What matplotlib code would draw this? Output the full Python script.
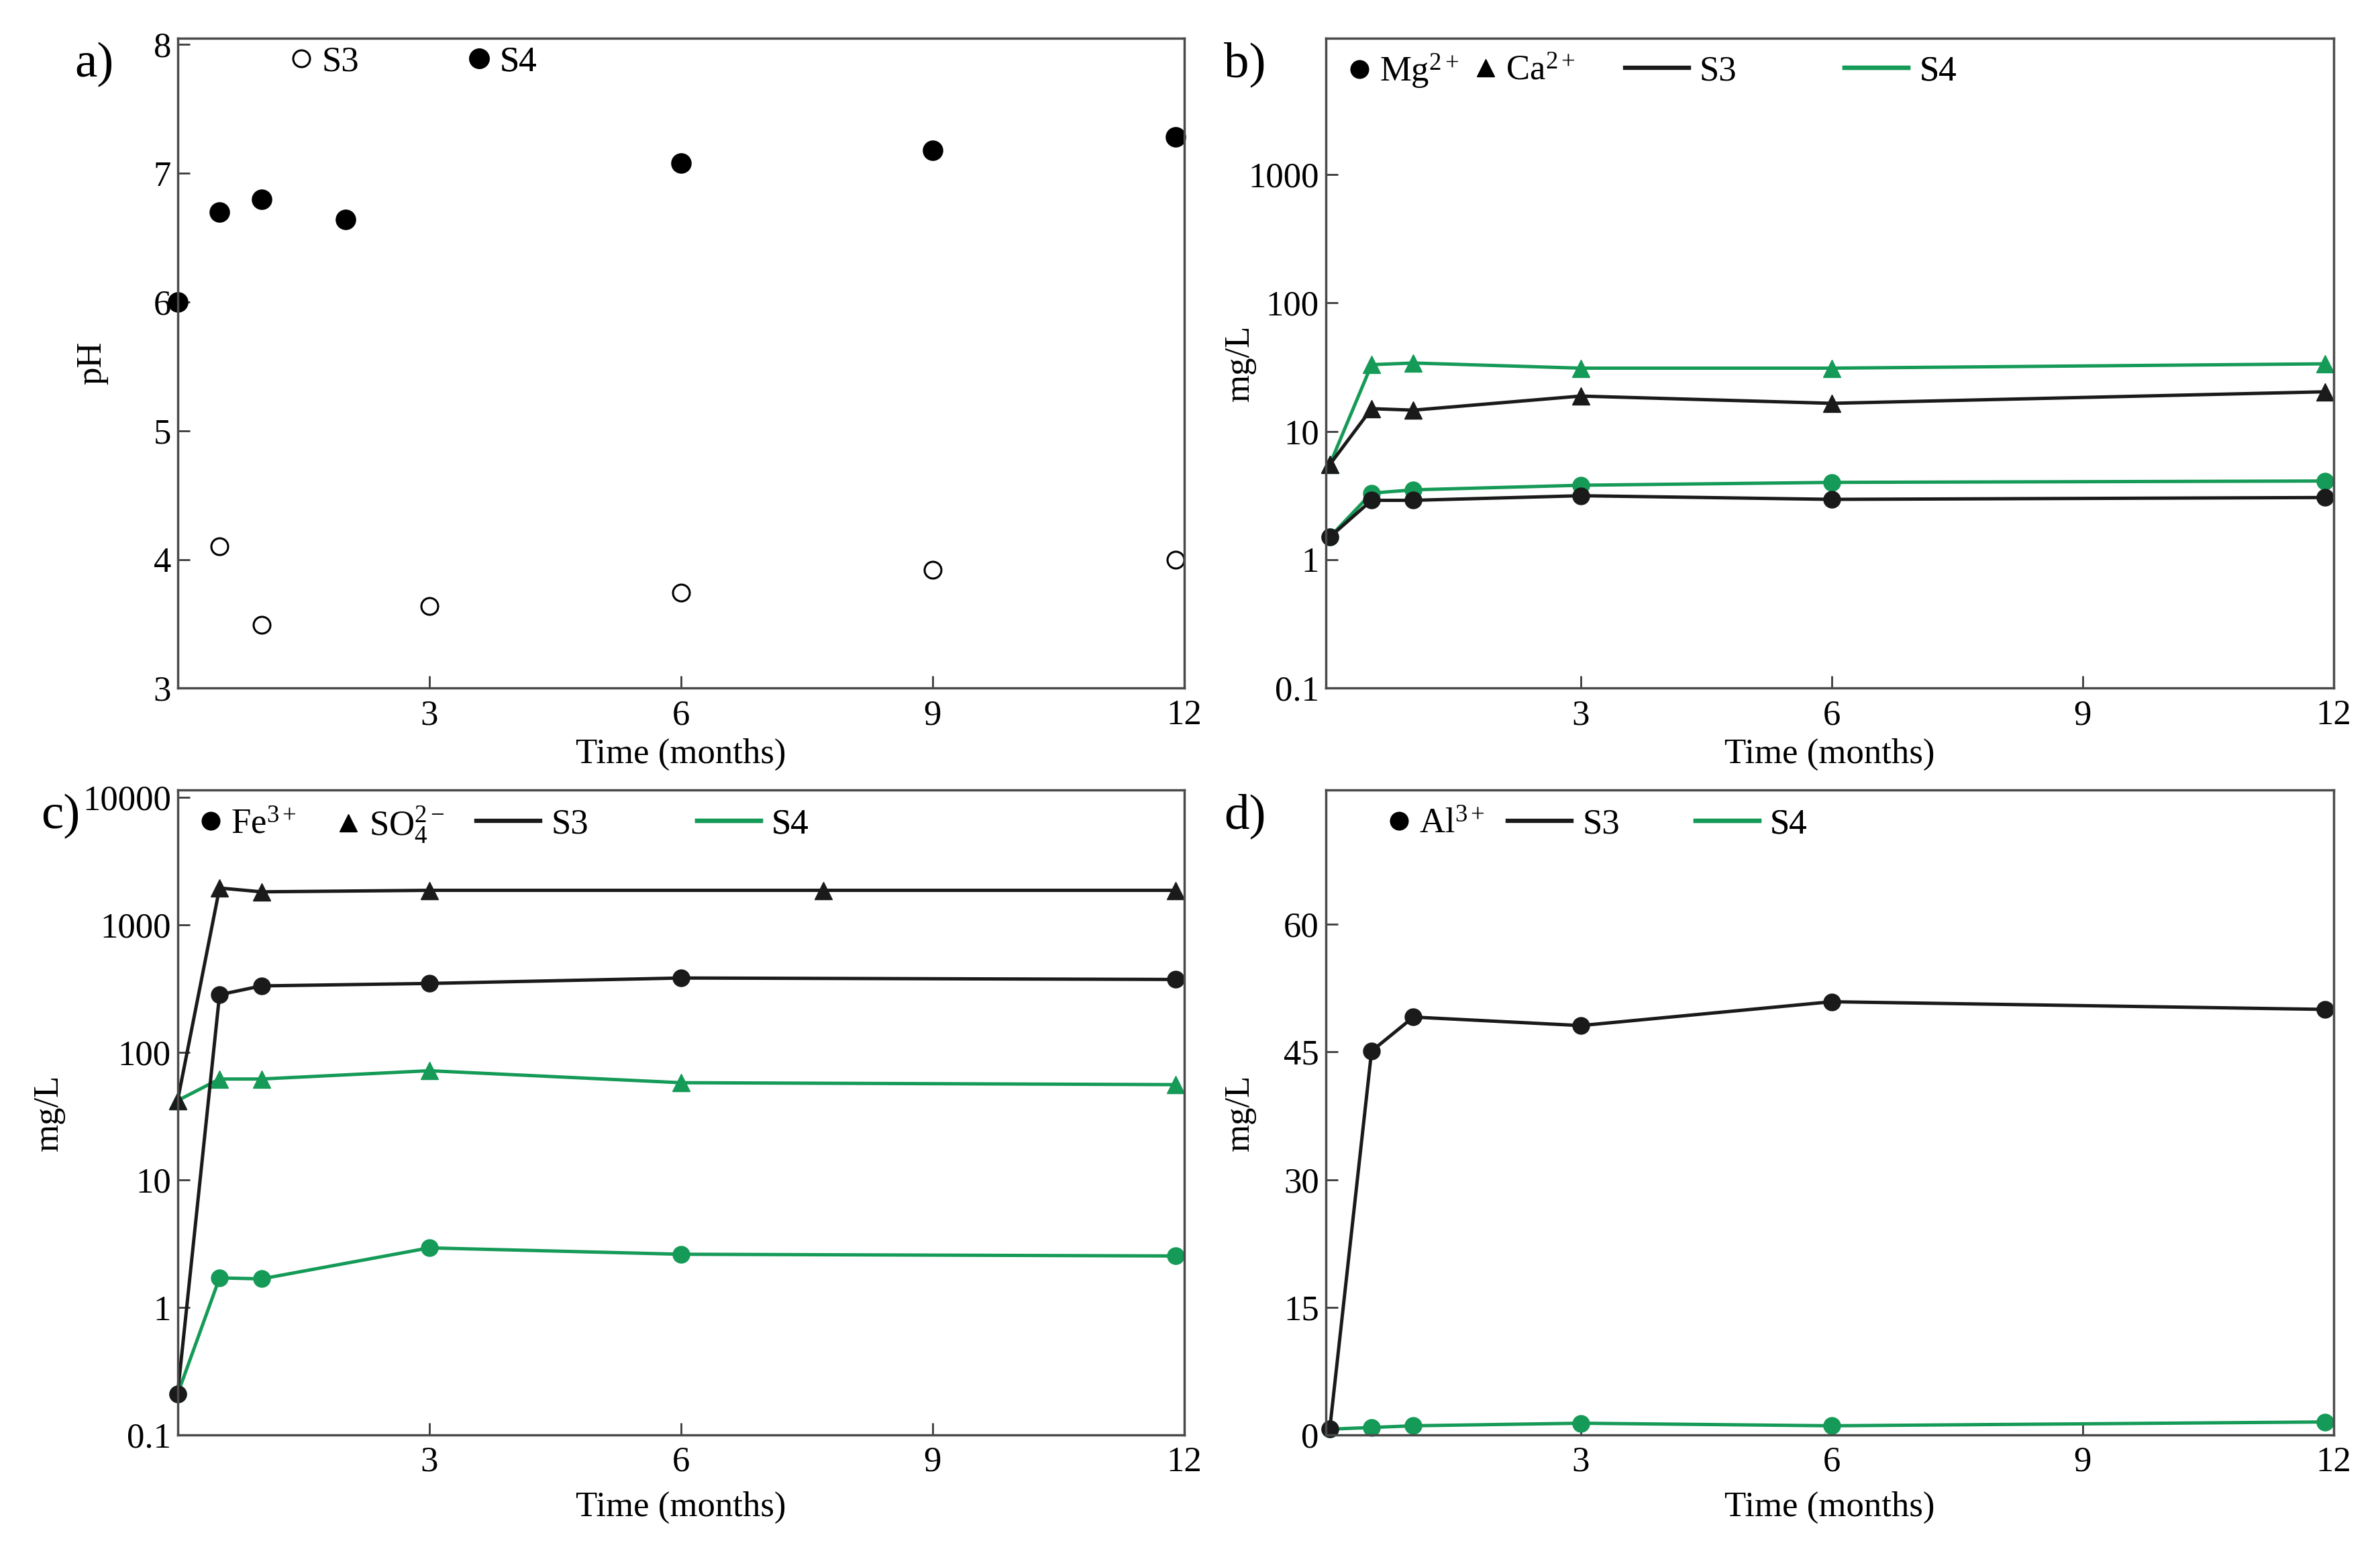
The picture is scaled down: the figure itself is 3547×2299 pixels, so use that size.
import matplotlib
matplotlib.use("Agg")
import matplotlib.pyplot as plt
from matplotlib.lines import Line2D

plt.rcParams['font.family'] = ['Liberation Serif', 'DejaVu Serif']
plt.rcParams['mathtext.fontset'] = 'custom'
plt.rcParams['mathtext.rm'] = 'Liberation Serif'
plt.rcParams['mathtext.it'] = 'Liberation Serif:italic'
plt.rcParams['mathtext.bf'] = 'Liberation Serif:bold'

# ---------------- data ----------------
# panel a (pH)
months_ph_s3 = [0.5, 1, 3, 6, 9, 11.9]
ph_s3 = [4.10, 3.49, 3.64, 3.74, 3.92, 4.00]
months_ph_s4 = [0, 0.5, 1, 2, 6, 9, 11.9]
ph_s4 = [6.00, 6.70, 6.80, 6.64, 7.08, 7.18, 7.28]

# common sampling months
months = [0, 0.5, 1, 3, 6, 11.9]

# panel b (Mg, Ca)
mg_s3 = [1.5, 2.9, 2.9, 3.15, 2.95, 3.05]
mg_s4 = [1.5, 3.3, 3.5, 3.8, 4.0, 4.1]
ca_s3 = [5.5, 15.0, 14.6, 18.8, 16.5, 20.3]
ca_s4 = [5.5, 33, 34, 31, 31, 33.5]

# panel c (Fe, SO4)
months_so4_s3 = [0, 0.5, 1, 3, 7.7, 11.9]
so4_s3 = [42, 1950, 1820, 1870, 1870, 1870]
so4_s4 = [42, 62, 62, 72, 58, 56]
fe_s3 = [0.21, 284, 333, 348, 384, 374]
fe_s4 = [0.21, 1.71, 1.68, 2.94, 2.62, 2.54]

# panel d (Al)
al_s3 = [0.7, 45.1, 49.1, 48.1, 50.9, 50.0]
al_s4 = [0.7, 0.9, 1.1, 1.4, 1.1, 1.55]

x_ticks = [3, 6, 9, 12]
x_tick_labels = ['3', '6', '9', '12']
ph_ticks = [3, 4, 5, 6, 7, 8]
log_ticks_b = [0.1, 1, 10, 100, 1000]
log_labels_b = ['0.1', '1', '10', '100', '1000']
log_ticks_c = [0.1, 1, 10, 100, 1000, 10000]
log_labels_c = ['0.1', '1', '10', '100', '1000', '10000']
al_ticks = [0, 15, 30, 45, 60]

xlabel = 'Time (months)'
S3_COLOR = '#1a1a1a'
S4_COLOR = '#159a57'

FS = 38
LW = 3.6
MS = 18

fig = plt.figure(figsize=(35.48, 22.99), dpi=100)
fig.patch.set_facecolor('white')

pos = {
    'a': [0.0746, 0.554, 0.4228, 0.4213],
    'b': [0.5568, 0.554, 0.4234, 0.4213],
    'c': [0.0746, 0.0699, 0.4228, 0.4183],
    'd': [0.5568, 0.0699, 0.4234, 0.4183],
}
axes = {k: fig.add_axes(v) for k, v in pos.items()}


def style(ax):
    for s in ax.spines.values():
        s.set_color('#4a4a4a')
        s.set_linewidth(2.5)
    ax.tick_params(direction='in', length=13, width=2, labelsize=FS,
                   color='#3a3a3a', top=False, right=False)
    ax.tick_params(axis='x', pad=12)
    ax.tick_params(axis='y', pad=7)
    ax.minorticks_off()


def item(ax, handle, label, x, y, hl):
    leg = ax.legend([handle], [label], loc='center left', bbox_to_anchor=(x, y),
                    frameon=False, handlelength=hl, handletextpad=0.3,
                    borderpad=0, borderaxespad=0, fontsize=FS)
    ax.add_artist(leg)


def circ(filled=True):
    return Line2D([], [], linestyle='none', marker='o', markersize=MS,
                  markerfacecolor='black' if filled else 'white',
                  markeredgecolor='black', markeredgewidth=2.2)


tri = Line2D([], [], linestyle='none', marker='^', markersize=MS + 1,
             color='black')
line_s3 = Line2D([], [], color=S3_COLOR, lw=LW + 1)
line_s4 = Line2D([], [], color=S4_COLOR, lw=LW + 1)

# ---------------- panel a ----------------
ax = axes['a']
ax.plot(months_ph_s3, ph_s3, linestyle='none', marker='o', markersize=MS,
        markerfacecolor='white', markeredgecolor='black', markeredgewidth=2.2,
        clip_on=False)
ax.plot(months_ph_s4, ph_s4, linestyle='none', marker='o', markersize=MS + 3,
        color='black', clip_on=False)
ax.set_xlim(0, 12)
ax.set_ylim(3, 8.05)
ax.set_xticks(x_ticks)
ax.set_xticklabels(x_tick_labels)
ax.set_yticks(ph_ticks)
style(ax)
ax.set_ylabel('pH', fontsize=FS)
ax.yaxis.set_label_coords(-0.069, 0.5)
ax.set_xlabel(xlabel, fontsize=FS)
ax.xaxis.set_label_coords(0.5, -0.077)
item(ax, circ(False), 'S3', 0.113, 0.963, 0.55)
item(ax, Line2D([], [], linestyle='none', marker='o', markersize=MS + 3,
                color='black'), 'S4', 0.290, 0.963, 0.55)

# ---------------- panel b ----------------
ax = axes['b']
ax.plot(months, mg_s4, color=S4_COLOR, lw=LW, marker='o', markersize=MS, clip_on=False)
ax.plot(months, ca_s4, color=S4_COLOR, lw=LW, marker='^', markersize=MS + 1, clip_on=False)
ax.plot(months, mg_s3, color=S3_COLOR, lw=LW, marker='o', markersize=MS, clip_on=False)
ax.plot(months, ca_s3, color=S3_COLOR, lw=LW, marker='^', markersize=MS + 1, clip_on=False)
ax.set_yscale('log')
ax.set_xlim(-0.05, 12)
ax.set_ylim(0.1, 11500)
ax.set_xticks(x_ticks)
ax.set_xticklabels(x_tick_labels)
ax.set_yticks(log_ticks_b)
ax.set_yticklabels(log_labels_b)
style(ax)
ax.set_ylabel('mg/L', fontsize=FS)
ax.yaxis.set_label_coords(-0.069, 0.5)
ax.set_xlabel(xlabel, fontsize=FS)
ax.xaxis.set_label_coords(0.5, -0.077)
item(ax, circ(True), r'Mg$^{\mathrm{2+}}$', 0.024, 0.949, 0.55)
item(ax, tri, r'Ca$^{\mathrm{2+}}$', 0.149, 0.949, 0.55)
item(ax, line_s3, 'S3', 0.297, 0.949, 1.8)
item(ax, line_s4, 'S4', 0.515, 0.949, 1.8)

# ---------------- panel c ----------------
ax = axes['c']
ax.plot(months, fe_s4, color=S4_COLOR, lw=LW, marker='o', markersize=MS, clip_on=False)
ax.plot(months, so4_s4, color=S4_COLOR, lw=LW, marker='^', markersize=MS + 1, clip_on=False)
ax.plot(months, fe_s3, color=S3_COLOR, lw=LW, marker='o', markersize=MS, clip_on=False)
ax.plot(months_so4_s3, so4_s3, color=S3_COLOR, lw=LW, marker='^', markersize=MS + 1, clip_on=False)
ax.set_yscale('log')
ax.set_xlim(0, 12)
ax.set_ylim(0.1, 11500)
ax.set_xticks(x_ticks)
ax.set_xticklabels(x_tick_labels)
ax.set_yticks(log_ticks_c)
ax.set_yticklabels(log_labels_c)
style(ax)
ax.set_ylabel('mg/L', fontsize=FS)
ax.yaxis.set_label_coords(-0.112, 0.5)
ax.set_xlabel(xlabel, fontsize=FS)
ax.xaxis.set_label_coords(0.5, -0.087)
item(ax, circ(True), r'Fe$^{\mathrm{3+}}$', 0.023, 0.946, 0.55)
item(ax, tri, r'SO$_{\mathrm{4}}^{\mathrm{2-}}$', 0.160, 0.946, 0.55)
item(ax, line_s3, 'S3', 0.297, 0.946, 1.8)
item(ax, line_s4, 'S4', 0.516, 0.946, 1.8)

# ---------------- panel d ----------------
ax = axes['d']
ax.plot(months, al_s4, color=S4_COLOR, lw=LW, marker='o', markersize=MS, clip_on=False)
ax.plot(months, al_s3, color=S3_COLOR, lw=LW, marker='o', markersize=MS, clip_on=False)
ax.set_xlim(-0.05, 12)
ax.set_ylim(0, 75.8)
ax.set_xticks(x_ticks)
ax.set_xticklabels(x_tick_labels)
ax.set_yticks(al_ticks)
style(ax)
ax.set_ylabel('mg/L', fontsize=FS)
ax.yaxis.set_label_coords(-0.069, 0.5)
ax.set_xlabel(xlabel, fontsize=FS)
ax.xaxis.set_label_coords(0.5, -0.087)
item(ax, circ(True), r'Al$^{\mathrm{3+}}$', 0.063, 0.946, 0.55)
item(ax, line_s3, 'S3', 0.181, 0.946, 1.8)
item(ax, line_s4, 'S4', 0.367, 0.946, 1.8)

# panel letters
PL = 54
fig.text(0.0395, 0.958, 'a)', fontsize=PL, ha='center', va='center')
fig.text(0.523, 0.958, 'b)', fontsize=PL, ha='center', va='center')
fig.text(0.0255, 0.471, 'c)', fontsize=PL, ha='center', va='center')
fig.text(0.523, 0.471, 'd)', fontsize=PL, ha='center', va='center')

fig.savefig('out.png', dpi=100, facecolor='white')
